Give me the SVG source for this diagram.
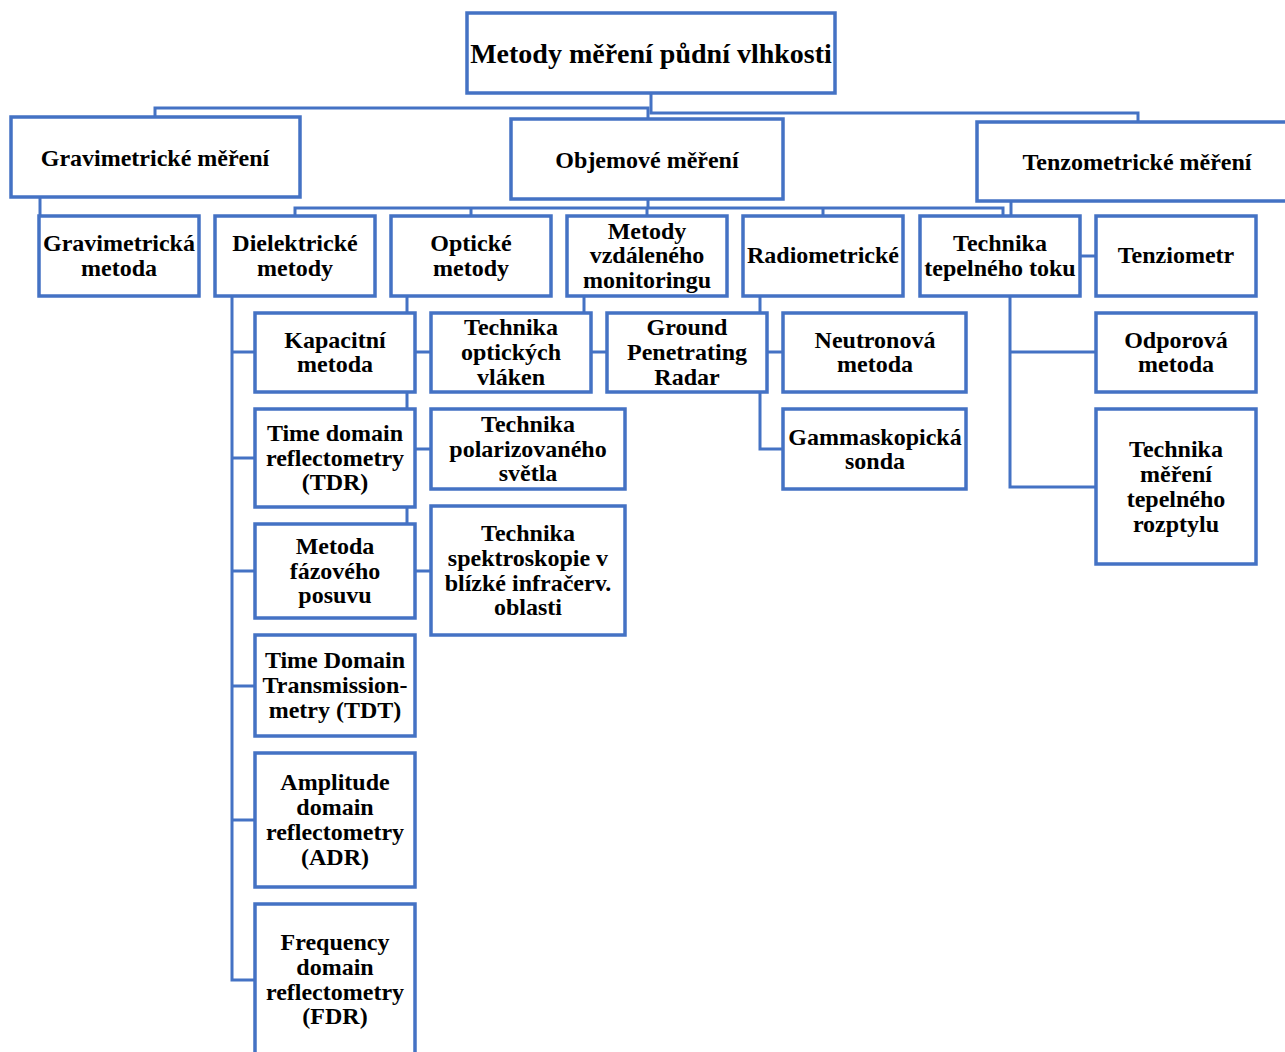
<svg xmlns="http://www.w3.org/2000/svg" width="1285" height="1052" viewBox="0 0 1285 1052">
<style>
.box{fill:#fff;stroke:#4472C4;stroke-width:3.5}
.c{fill:none;stroke:#4472C4;stroke-width:3}
text{font-family:"Liberation Serif","Times New Roman",serif;font-weight:bold;font-size:24px;fill:#000;text-anchor:middle}
.root{font-size:28px}
</style>
<rect width="1285" height="1052" fill="#fff"/>
<g id="connectors">
<path class="c" d="M155,117 V108 H648 V119"/>
<path class="c" d="M651,93 V113 H1138 V122"/>
<path class="c" d="M40,197 V216"/>
<path class="c" d="M648,199 V208 M295,216 V208 H1003 V216 M471,208 V216 M647,208 V216 M823,208 V216"/>
<path class="c" d="M1011,201 V216"/>
<path class="c" d="M1080,256 H1096"/>
<path class="c" d="M232,296 V980 H255 M232,352 H255 M232,458 H255 M232,571 H255 M232,686 H255 M232,820 H255"/>
<path class="c" d="M407,296 V571 H431 M407,352 H431 M407,449 H431"/>
<path class="c" d="M584,296 V352 H607"/>
<path class="c" d="M760,296 V449 H783 M760,352 H783"/>
<path class="c" d="M1010,296 V487 H1096 M1010,352 H1096"/>
</g>
<g id="root"><rect class="box" x="467" y="13" width="368" height="80"/><text class="root" x="651" y="63">Metody měření půdní vlhkosti</text></g>
<g id="gravimetricke"><rect class="box" x="11" y="117" width="289" height="80"/><text x="155" y="166">Gravimetrické měření</text></g>
<g id="objemove"><rect class="box" x="511" y="119" width="272" height="80"/><text x="647" y="168">Objemové měření</text></g>
<g id="tenzometricke"><rect class="box" x="977" y="122" width="320" height="79"/><text x="1137" y="170">Tenzometrické měření</text></g>
<g id="gravimetricka-metoda"><rect class="box" x="39" y="216" width="160" height="80"/><text x="119" y="251">Gravimetrická</text><text x="119" y="276">metoda</text></g>
<g id="dielektricke"><rect class="box" x="215" y="216" width="160" height="80"/><text x="295" y="251">Dielektrické</text><text x="295" y="276">metody</text></g>
<g id="opticke"><rect class="box" x="391" y="216" width="160" height="80"/><text x="471" y="251">Optické</text><text x="471" y="276">metody</text></g>
<g id="vzdaleny"><rect class="box" x="567" y="216" width="160" height="80"/><text x="647" y="239">Metody</text><text x="647" y="263">vzdáleného</text><text x="647" y="288">monitoringu</text></g>
<g id="radiometricke"><rect class="box" x="743" y="216" width="160" height="80"/><text x="823" y="263">Radiometrické</text></g>
<g id="tepelny-tok"><rect class="box" x="920" y="216" width="160" height="80"/><text x="1000" y="251">Technika</text><text x="1000" y="276">tepelného toku</text></g>
<g id="tenziometr"><rect class="box" x="1096" y="216" width="160" height="80"/><text x="1176" y="263">Tenziometr</text></g>
<g id="kapacitni"><rect class="box" x="255" y="313" width="160" height="79"/><text x="335" y="348">Kapacitní</text><text x="335" y="372">metoda</text></g>
<g id="tdr"><rect class="box" x="255" y="409" width="160" height="98"/><text x="335" y="441">Time domain</text><text x="335" y="466">reflectometry</text><text x="335" y="490">(TDR)</text></g>
<g id="fazovy"><rect class="box" x="255" y="524" width="160" height="94"/><text x="335" y="554">Metoda</text><text x="335" y="579">fázového</text><text x="335" y="603">posuvu</text></g>
<g id="tdt"><rect class="box" x="255" y="635" width="160" height="101"/><text x="335" y="668">Time Domain</text><text x="335" y="693">Transmission-</text><text x="335" y="718">metry (TDT)</text></g>
<g id="adr"><rect class="box" x="255" y="753" width="160" height="134"/><text x="335" y="790">Amplitude</text><text x="335" y="815">domain</text><text x="335" y="840">reflectometry</text><text x="335" y="865">(ADR)</text></g>
<g id="fdr"><rect class="box" x="255" y="904" width="160" height="160"/><text x="335" y="950">Frequency</text><text x="335" y="975">domain</text><text x="335" y="1000">reflectometry</text><text x="335" y="1024">(FDR)</text></g>
<g id="opticka-vlakna"><rect class="box" x="431" y="313" width="160" height="79"/><text x="511" y="335">Technika</text><text x="511" y="360">optických</text><text x="511" y="385">vláken</text></g>
<g id="polarizovane"><rect class="box" x="431" y="409" width="194" height="80"/><text x="528" y="432">Technika</text><text x="528" y="457">polarizovaného</text><text x="528" y="481">světla</text></g>
<g id="spektroskopie"><rect class="box" x="431" y="506" width="194" height="129"/><text x="528" y="541">Technika</text><text x="528" y="566">spektroskopie v</text><text x="528" y="591">blízké infračerv.</text><text x="528" y="615">oblasti</text></g>
<g id="gpr"><rect class="box" x="607" y="313" width="160" height="79"/><text x="687" y="335">Ground</text><text x="687" y="360">Penetrating</text><text x="687" y="385">Radar</text></g>
<g id="neutronova"><rect class="box" x="783" y="313" width="183" height="79"/><text x="875" y="348">Neutronová</text><text x="875" y="372">metoda</text></g>
<g id="gammaskopicka"><rect class="box" x="783" y="409" width="183" height="80"/><text x="875" y="445">Gammaskopická</text><text x="875" y="469">sonda</text></g>
<g id="odporova"><rect class="box" x="1096" y="313" width="160" height="79"/><text x="1176" y="348">Odporová</text><text x="1176" y="372">metoda</text></g>
<g id="tepelny-rozptyl"><rect class="box" x="1096" y="409" width="160" height="155"/><text x="1176" y="457">Technika</text><text x="1176" y="482">měření</text><text x="1176" y="507">tepelného</text><text x="1176" y="532">rozptylu</text></g>
</svg>
